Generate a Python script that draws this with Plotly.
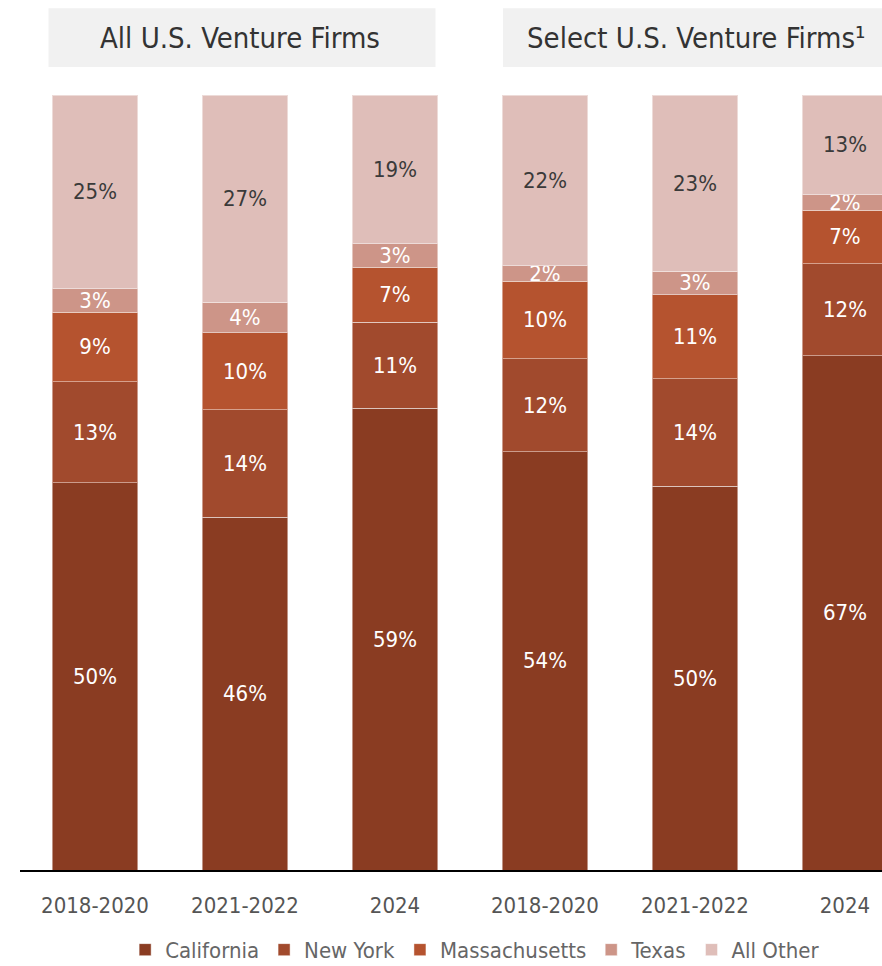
import plotly.graph_objects as go

periods = ["2018-2020", "2021-2022", "2024", "2018-2020", "2021-2022", "2024"]
groups = ["All U.S. Venture Firms", "Select U.S. Venture Firms¹"]

california = [50, 46, 59, 54, 50, 67]
new_york = [13, 14, 11, 12, 14, 12]
massachusetts = [9, 10, 7, 10, 11, 7]
texas = [3, 4, 3, 2, 3, 2]
all_other = [25, 27, 19, 22, 23, 13]

series = [
    ("California", california, "#8A3C22", "white"),
    ("New York", new_york, "#A14A2D", "white"),
    ("Massachusetts", massachusetts, "#B5532F", "white"),
    ("Texas", texas, "#CD9588", "white"),
    ("All Other", all_other, "#DFBEB9", "#3a3a3a"),
]

FONT = "DejaVu Sans Condensed, Liberation Sans Narrow, sans-serif"
xs = list(range(len(periods)))

fig = go.Figure()
for name, vals, col, tcol in series:
    fig.add_trace(go.Bar(
        x=xs, y=vals, name=name,
        marker=dict(color=col, line=dict(color="rgba(255,255,255,0.45)", width=1)),
        width=0.57,
        text=[f"{v}%" for v in vals],
        textposition="inside", insidetextanchor="middle",
        textangle=0, constraintext="none",
        textfont=dict(family=FONT, size=22, color=tcol),
        hoverinfo="skip",
    ))

# group header boxes
for x0, x1 in [(-0.31, 2.27), (2.72, 5.6)]:
    fig.add_shape(type="rect", xref="x", yref="paper", x0=x0, x1=x1,
                  y0=1.036, y1=1.112, fillcolor="#F1F1F1", line_width=0, layer="below")
for xc, g in zip([0.97, 4.01], groups):
    fig.add_annotation(x=xc, xref="x", y=1.073, yref="paper", yanchor="middle",
                       text=g, showarrow=False,
                       font=dict(family=FONT, size=29, color="#333333"))

fig.update_layout(
    width=882, height=966,
    margin=dict(l=20, r=0, t=95, b=96, autoexpand=False),
    barmode="stack", barnorm="percent",
    plot_bgcolor="white", paper_bgcolor="white",
    showlegend=True,
    legend=dict(orientation="h", x=0.528, xanchor="center", y=-0.103, yanchor="middle",
                font=dict(family=FONT, size=22, color="#666666"),
                traceorder="normal", itemwidth=30),
    # last bar is cut off at the right edge, like the original
    xaxis=dict(range=[-0.5, 5.247], tickvals=xs, ticktext=periods, showgrid=False,
               showline=True, linecolor="black", linewidth=2,
               ticks="outside", ticklen=15, tickcolor="rgba(0,0,0,0)",
               tickfont=dict(family=FONT, size=22, color="#555555")),
    yaxis=dict(range=[0, 100], visible=False),
)

# drop the default body margin so the figure fills the window
fig.write_html("out.html", config={"displayModeBar": False}, post_script=(
    "document.body.style.margin='0';"
    "document.body.style.overflow='hidden';"
    "document.documentElement.style.overflow='hidden';"
))
